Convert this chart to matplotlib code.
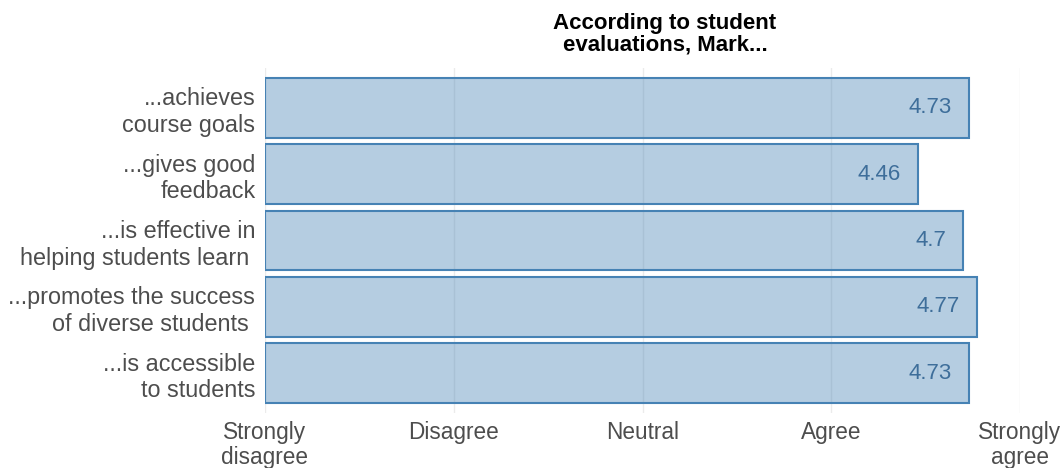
import matplotlib
matplotlib.use("Agg")
import matplotlib.pyplot as plt

categories = ["...achieves\ncourse goals", "...gives good\nfeedback",
              "...is effective in\nhelping students learn ", "...promotes the success\nof diverse students ",
              "...is accessible\nto students"]
values = [4.73, 4.46, 4.7, 4.77, 4.73]
value_labels = ["4.73", "4.46", "4.7", "4.77", "4.73"]
tick_positions = [1, 2, 3, 4, 5]
tick_labels = ["Strongly\ndisagree", "Disagree", "Neutral", "Agree", "Strongly\nagree"]
title = "According to student\nevaluations, Mark..."

plt.rcParams['font.family'] = ['Liberation Sans', 'DejaVu Sans']

W, H = 1060, 468
fig = plt.figure(figsize=(W/100, H/100), dpi=100)
ax = fig.add_axes([265/W, 1-413/H, (1020-265)/W, (413-68)/H])

ypos = list(range(len(categories)))
ax.barh(ypos, [v - 1 for v in values], left=1, height=0.9,
        color=(70/255, 130/255, 180/255, 0.4), edgecolor="#4682b4", linewidth=1.5, zorder=2)
for y, v, lab in zip(ypos, values, value_labels):
    ax.text(v - 0.09, y, lab, ha="right", va="center", fontsize=16, color="#3e6e9a", zorder=3)

ax.set_xlim(1, 5)
ax.set_ylim(len(categories) - 0.4, -0.6)
ax.set_yticks(ypos)
ax.set_yticklabels(categories, fontsize=16.8, color="#4d4d4d", linespacing=1.2)
ax.set_xticks(tick_positions)
ax.set_xticklabels(tick_labels, fontsize=16.3, color="#4d4d4d", linespacing=1.1)
ax.tick_params(axis="both", length=0)
ax.tick_params(axis="x", pad=6)
ax.tick_params(axis="y", pad=7)
ax.grid(axis="x", color="#ebebeb", linewidth=1.0, zorder=0)
ax.set_axisbelow(True)
for s in ax.spines.values():
    s.set_visible(False)

fig.text(665/W, 1-34/H, title, ha="center", va="center", fontsize=16, fontweight="bold",
         color="black", linespacing=1.05)

fig.savefig("out.png", dpi=100)
